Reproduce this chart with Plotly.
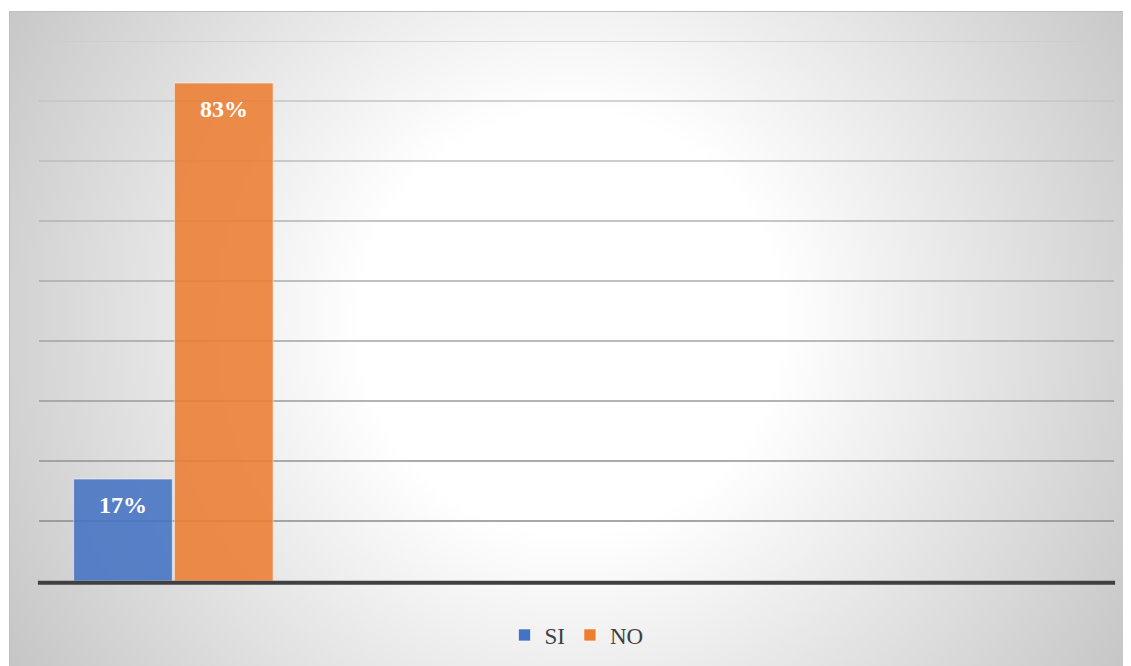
import base64
import plotly.graph_objects as go

# ---- data ----
categories = ["Respuesta"]
series_names = ["SI", "NO"]
si_values = [0.17]
no_values = [0.83]
label_si = ["17%"]
label_no = ["83%"]
grid_ticks = [0.1, 0.2, 0.3, 0.4, 0.5, 0.6, 0.7, 0.8, 0.9]

# page body has an 8px margin -> figure is drawn offset by 8px
W, H = 1123, 658
ML, MR, MT, MB = 31, 17, 33, 85
PW, PH = W - ML - MR, H - MT - MB
BARGAP = 0.25
BARGROUPGAP = 0.02

BLUE = "#4472C4"
ORANGE = "#ED7D31"
FONT = "Liberation Serif"

# background: white page, chart area with radial gradient and light border
svg = f'''<svg xmlns="http://www.w3.org/2000/svg" width="{W}" height="{H}" viewBox="0 0 {W} {H}">
<defs><radialGradient id="g" gradientUnits="userSpaceOnUse" cx="562" cy="315" r="700">
<stop offset="0" stop-color="#ffffff"/><stop offset="0.30" stop-color="#ffffff"/>
<stop offset="1" stop-color="#c0c0c0"/></radialGradient></defs>
<rect x="0" y="0" width="{W}" height="{H}" fill="#ffffff"/>
<rect x="1.5" y="3.5" width="{W + 20}" height="{H + 20}" fill="url(#g)" stroke="#bfbfbf" stroke-width="1"/>
</svg>'''
src = "data:image/svg+xml;base64," + base64.b64encode(svg.encode()).decode()

fig = go.Figure()
fig.add_trace(go.Bar(name=series_names[0], x=categories, y=si_values,
                     marker=dict(color=BLUE, opacity=0.87,
                                 line=dict(color="rgba(255,255,255,0.6)", width=1)),
                     hoverinfo="skip"))
fig.add_trace(go.Bar(name=series_names[1], x=categories, y=no_values,
                     marker=dict(color=ORANGE, opacity=0.87,
                                 line=dict(color="rgba(255,255,255,0.6)", width=1)),
                     hoverinfo="skip"))

# gridlines with gradient colour (darker toward bottom)
def lerp(a, b, t):
    return int(round(a + (b - a) * t))
shapes = []
n = len(grid_ticks)
for i, v in enumerate(grid_ticks):
    t = i / (n - 1)
    c = lerp(0x8a, 0xcc, t)
    shapes.append(dict(type="line", xref="paper", yref="y", x0=0, x1=1, y0=v, y1=v,
                       line=dict(color=f"rgb({c},{c},{c})", width=1.4), layer="below"))
# thick category-axis line just under the bars (paper ref so it is not clipped)
shapes.append(dict(type="line", xref="paper", yref="paper", x0=-0.001, x1=1.001,
                   y0=-1.8 / PH, y1=-1.8 / PH,
                   line=dict(color="#404040", width=4), layer="above"))

# data labels (inside end), positioned from the bar layout
slot = (1 - BARGAP) / len(series_names)
annotations = []
for si, (vals, labs) in enumerate([(si_values, label_si), (no_values, label_no)]):
    off = -(1 - BARGAP) / 2 + slot * (si + 0.5)
    for ci, (v, lab) in enumerate(zip(vals, labs)):
        annotations.append(dict(x=ci + off, y=v, xref="x", yref="y", text=lab,
                                showarrow=False, yshift=-26, yanchor="middle",
                                font=dict(family=FONT, size=24, color="white", weight="bold")))

fig.update_layout(
    width=W, height=H,
    margin=dict(l=ML, r=MR, t=MT, b=MB, pad=0, autoexpand=False),
    paper_bgcolor="white", plot_bgcolor="rgba(0,0,0,0)",
    barmode="group", bargap=BARGAP, bargroupgap=BARGROUPGAP,
    xaxis=dict(type="category", range=[-0.5, 3.5], showticklabels=False,
               showgrid=False, zeroline=False, showline=False, ticks=""),
    yaxis=dict(range=[0, 0.9], showticklabels=False, showgrid=False,
               zeroline=False, showline=False, ticks=""),
    shapes=shapes, annotations=annotations,
    images=[dict(source=src, xref="paper", yref="paper",
                 x=-ML / PW, y=1 + MT / PH, sizex=W / PW, sizey=H / PH,
                 xanchor="left", yanchor="top", sizing="stretch", layer="below")],
    legend=dict(orientation="h", x=0.5, xanchor="center", y=-54 / PH, yanchor="middle",
                font=dict(family=FONT, size=23, color="#404040"),
                bgcolor="rgba(0,0,0,0)", itemclick=False, itemdoubleclick=False),
    showlegend=True,
    font=dict(family=FONT),
)

fig.write_html("out.html")
